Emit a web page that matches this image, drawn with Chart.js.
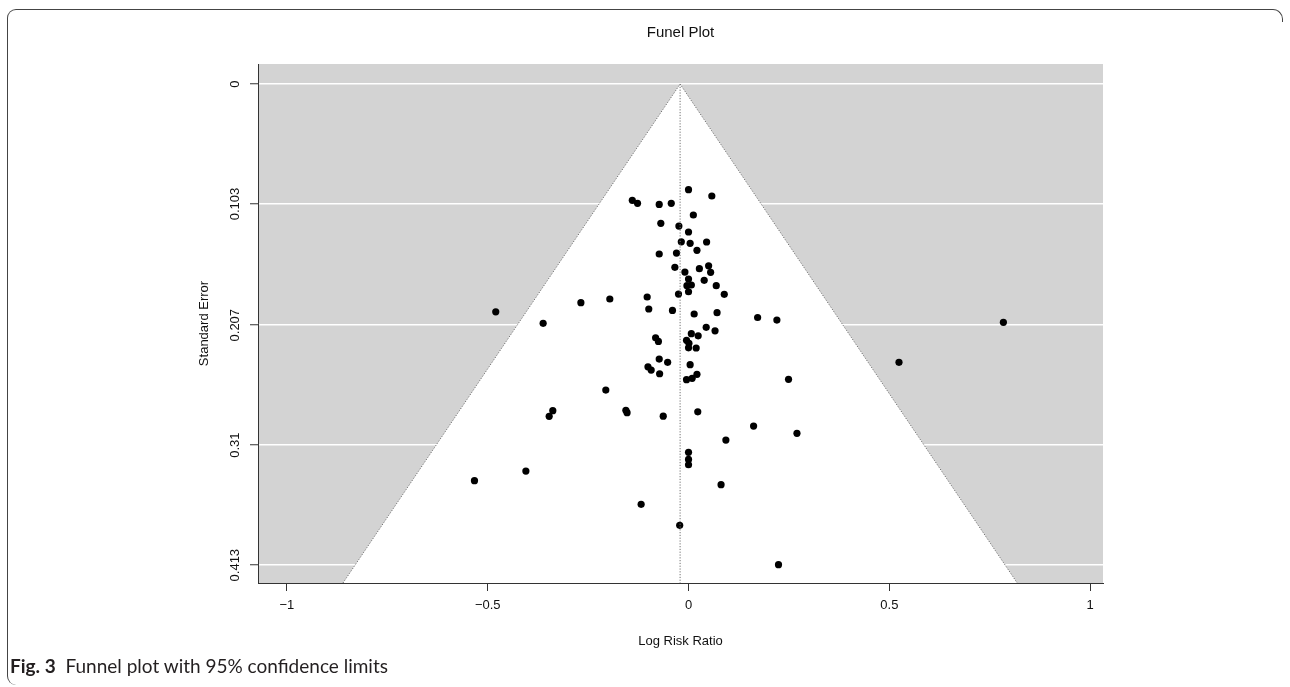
<!DOCTYPE html>
<html><head><meta charset="utf-8">
<script src="https://cdn.jsdelivr.net/npm/chart.js@4.4.1/dist/chart.umd.min.js"></script>
<style>
html,body{margin:0;padding:0;background:#fff;width:1290px;height:687px;overflow:hidden;}
#wrap{position:relative;width:1290px;height:687px;}
#c{position:absolute;left:0;top:0;}
.frame{position:absolute;left:7px;top:9px;width:1276px;height:676px;border-top:1.5px solid #444;border-left:1.5px solid #444;border-right:1.5px solid #444;border-top-left-radius:9px;border-top-right-radius:10px;border-bottom-left-radius:9px;box-sizing:border-box;pointer-events:none;}
.mask{position:absolute;left:1270px;top:22px;width:20px;height:670px;background:#fff;}
.caption{position:absolute;left:10px;top:654px;font-family:Lato,"Open Sans",sans-serif;font-size:19px;color:#231f20;white-space:pre;}
.caption b{font-weight:700;}
</style></head>
<body><div id="wrap">
<canvas id="c" width="1290" height="687"></canvas>
<div class="frame"></div><div class="mask"></div>
<div class="caption"><b>Fig. 3</b>  Funnel plot with 95% confidence limits</div>
</div>
<script>
const logRiskRatio = [0.000, 0.058, -0.140, -0.127, -0.073, -0.043, 0.012, -0.069, -0.024, 0.000,
  -0.018, 0.004, 0.045, 0.021, -0.073, -0.030, -0.034, -0.009, 0.027, 0.050,
  0.055, 0.000, 0.039, -0.004, 0.007, 0.069, -0.025, 0.000, 0.089, -0.196,
  -0.103, -0.268, -0.099, -0.040, 0.014, 0.071, 0.172, 0.220, -0.480, -0.362,
  0.784, 0.044, 0.066, 0.007, 0.024, -0.082, -0.075, -0.005, 0.001, 0.000,
  0.019, -0.073, -0.052, 0.004, -0.101, -0.093, -0.072, 0.021, 0.009, -0.005,
  0.249, 0.524, -0.206, -0.338, -0.347, -0.156, -0.153, -0.063, 0.023, 0.162,
  0.270, 0.093, 0.000, 0.000, 0.000, -0.533, -0.405, 0.081, -0.118, -0.022, 0.224];
const standardError = [0.0907, 0.0961, 0.0998, 0.1024, 0.1033, 0.1024, 0.1124, 0.1196, 0.1219, 0.1270,
  0.1354, 0.1367, 0.1356, 0.1427, 0.1459, 0.1451, 0.1573, 0.1614, 0.1585, 0.1560,
  0.1616, 0.1674, 0.1685, 0.1731, 0.1725, 0.1731, 0.1803, 0.1783, 0.1805, 0.1845,
  0.1828, 0.1877, 0.1931, 0.1943, 0.1974, 0.1963, 0.2004, 0.2026, 0.1955, 0.2054,
  0.2045, 0.2088, 0.2118, 0.2143, 0.2161, 0.2178, 0.2209, 0.2200, 0.2226, 0.2264,
  0.2266, 0.2361, 0.2389, 0.2409, 0.2427, 0.2455, 0.2487, 0.2492, 0.2526, 0.2538,
  0.2535, 0.2389, 0.2627, 0.2804, 0.2852, 0.2800, 0.2821, 0.2851, 0.2814, 0.2936,
  0.2998, 0.3056, 0.3161, 0.3222, 0.3268, 0.3405, 0.3322, 0.3439, 0.3608, 0.3788, 0.4126];
const xTickValues = [-1, -0.5, 0, 0.5, 1];
const yTickValues = [0, 0.103, 0.207, 0.31, 0.413];
const yTickLabels = ["0", "0.103", "0.207", "0.31", "0.413"];
const pooledEstimate = -0.021;
const zCrit = 1.96;
const xRange = [-1.072, 1.032];
const yRange = [-0.0172, 0.4283];

const FONT = '"Liberation Sans", Arial, Helvetica, sans-serif';
const TXT = '#111';

const points = logRiskRatio.map((v, i) => ({x: v, y: standardError[i]}));
const seMax = yRange[1];
const funnelEdges = [
  {x: pooledEstimate - zCrit * seMax, y: seMax},
  {x: pooledEstimate, y: 0},
  {x: pooledEstimate + zCrit * seMax, y: seMax}
];
const centerLine = [{x: pooledEstimate, y: 0}, {x: pooledEstimate, y: seMax}];

const funnelPlugin = {
  id: 'funnelBg',
  beforeDraw(chart) {
    const {ctx, chartArea: a, scales: {x, y}} = chart;
    ctx.save();
    ctx.fillStyle = '#d3d3d3';
    ctx.fillRect(a.left, a.top, a.right - a.left, a.bottom - a.top);
    ctx.beginPath();
    ctx.rect(a.left, a.top, a.right - a.left, a.bottom - a.top);
    ctx.clip();
    ctx.beginPath();
    funnelEdges.forEach((p, i) => {
      const px = x.getPixelForValue(p.x), py = y.getPixelForValue(p.y);
      if (i === 0) ctx.moveTo(px, py); else ctx.lineTo(px, py);
    });
    ctx.closePath();
    ctx.fillStyle = '#ffffff';
    ctx.fill();
    ctx.restore();
  },
  afterDraw(chart) {
    const {ctx, chartArea: a, scales: {x, y}} = chart;
    ctx.save();
    ctx.fillStyle = TXT;
    ctx.font = '15px ' + FONT;
    ctx.textAlign = 'center';
    ctx.textBaseline = 'middle';
    ctx.fillText('Funel Plot', (a.left + a.right) / 2, 33);
    ctx.font = '13px ' + FONT;
    yTickValues.forEach((v, i) => {
      const py = y.getPixelForValue(v);
      ctx.save();
      ctx.translate(235, py);
      ctx.rotate(-Math.PI / 2);
      ctx.fillText(yTickLabels[i], 0, 0);
      ctx.restore();
    });
    ctx.restore();
  }
};

new Chart(document.getElementById('c'), {
  type: 'scatter',
  data: {
    datasets: [
      {
        label: 'funnel', type: 'line', data: funnelEdges,
        borderColor: '#707070', borderWidth: 1, borderDash: [1.2, 1.6],
        pointRadius: 0, fill: false, tension: 0
      },
      {
        label: 'estimate', type: 'line', data: centerLine,
        borderColor: '#707070', borderWidth: 1, borderDash: [1.2, 1.6],
        pointRadius: 0, fill: false
      },
      {
        label: 'studies', data: points,
        backgroundColor: '#000', borderColor: '#000', borderWidth: 0,
        pointRadius: 3.6, pointHoverRadius: 3.6
      }
    ]
  },
  options: {
    responsive: false, animation: false, devicePixelRatio: 1,
    events: [],
    layout: {padding: {left: 0, top: 64, right: 187, bottom: 0}},
    plugins: {legend: {display: false}, tooltip: {enabled: false}, title: {display: false}},
    scales: {
      x: {
        type: 'linear', min: xRange[0], max: xRange[1],
        afterBuildTicks: s => { s.ticks = xTickValues.map(v => ({value: v})); },
        afterFit: s => { s.height = 104; },
        grid: {drawOnChartArea: false, drawTicks: true, tickLength: 8, tickColor: '#333', tickWidth: 1},
        border: {display: true, color: '#333', width: 1},
        ticks: {
          color: TXT, font: {family: FONT, size: 13}, padding: 7, maxRotation: 0,
          callback: v => (v < 0 ? '\u2212' + Math.abs(v) : String(v))
        },
        title: {display: true, text: 'Log Risk Ratio', color: TXT, font: {family: FONT, size: 13}, padding: {top: 0, bottom: 38}}
      },
      y: {
        type: 'linear', reverse: true, min: yRange[0], max: yRange[1],
        afterBuildTicks: s => { s.ticks = yTickValues.map(v => ({value: v})); },
        afterFit: s => { s.width = 258; },
        grid: {drawOnChartArea: true, color: '#ffffff', lineWidth: 1.5, drawTicks: true, tickLength: 8, tickColor: '#333', tickWidth: 1},
        border: {display: true, color: '#333', width: 1},
        ticks: {display: false},
        title: {display: true, text: 'Standard Error', color: TXT, font: {family: FONT, size: 13}, padding: {top: 197, bottom: 0}}
      }
    }
  },
  plugins: [funnelPlugin]
});
</script>
</body></html>
